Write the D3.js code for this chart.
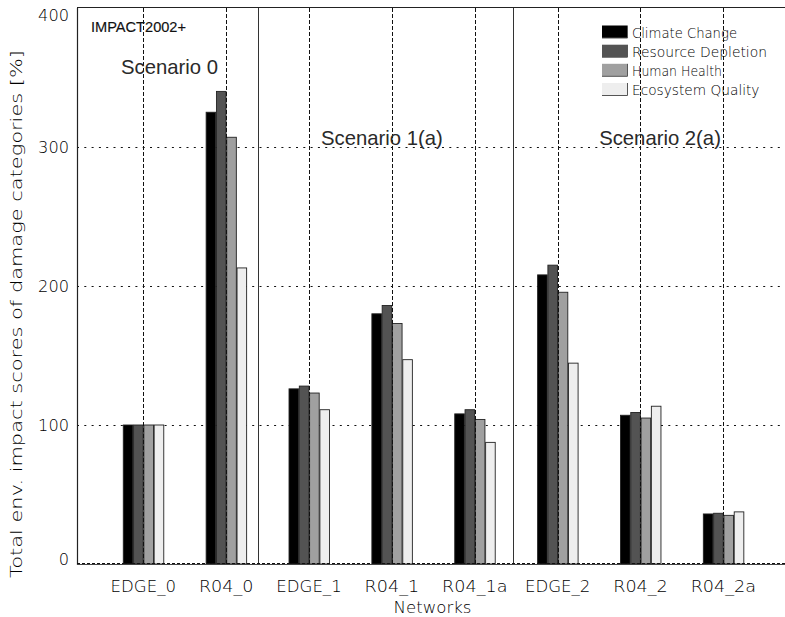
<!DOCTYPE html>
<html>
<head>
<meta charset="utf-8">
<script src="https://cdn.jsdelivr.net/npm/d3@7"></script>
<style>
  html, body { margin: 0; padding: 0; background: #fff; }
  svg { display: block; }
  .hershey { font-family: "DejaVu Sans ExtraLight", "DejaVu Sans", sans-serif; font-weight: 200; fill: #000; }
  .arial { font-family: "Liberation Sans", Arial, sans-serif; }
</style>
</head>
<body>
<svg id="chart" width="785" height="617"></svg>
<script>
// Networks on the x axis
const networks = ["EDGE_0", "R04_0", "EDGE_1", "R04_1", "R04_1a", "EDGE_2", "R04_2", "R04_2a"];
// Damage categories (one bar per category within each network)
const categories = ["Climate Change", "Resource Depletion", "Human Health", "Ecosystem Quality"];
// Scores in % relative to EDGE_0
const climateChange     = [100, 325, 126, 180, 108, 208, 107, 36];
const resourceDepletion = [100, 340, 128, 186, 111, 215, 109, 36.5];
const humanHealth       = [100, 307, 123, 173, 104, 195.5, 105, 35];
const ecosystemQuality  = [100, 213, 111, 147, 87.5, 144.5, 113.5, 37.5];
const yTicks = [0, 100, 200, 300, 400];
// Scenario headings
const scenarioNames = ["Scenario 0", "Scenario 1(a)", "Scenario 2(a)"];

const seriesValues = [climateChange, resourceDepletion, humanHealth, ecosystemQuality];
const fills = ["#000000", "#535353", "#a0a0a0", "#eeeeee"];

const svg = d3.select("#chart");
const plotLeft = 77, plotRight = 785, plotTop = 8, plotBottom = 564;

// x in network-index units
const x = d3.scaleLinear().domain([-0.8, 7.744]).range([plotLeft, plotRight]);
const step = x(1) - x(0);
const y = d3.scaleLinear().domain([0, 400]).range([plotBottom, plotTop]);
const inner = d3.scaleBand().domain(categories).range([-0.2475 * step, 0.2495 * step]);

// Horizontal dotted grid (behind bars)
svg.append("g").selectAll("line").data(yTicks.filter(v => v > 0 && v < 400)).join("line")
  .attr("x1", plotLeft).attr("x2", plotRight)
  .attr("y1", d => Math.round(y(d)) + 0.5).attr("y2", d => Math.round(y(d)) + 0.5)
  .attr("stroke", "#111").attr("stroke-width", 1.2).attr("stroke-dasharray", "2,5.3");

// Bars
const barData = [];
networks.forEach((n, i) => categories.forEach((c, k) => barData.push({ i, k, c, v: seriesValues[k][i] })));
svg.append("g").selectAll("rect").data(barData).join("rect")
  .attr("x", d => x(d.i) + inner(d.c) + 0.5)
  .attr("width", inner.bandwidth() - 0.7)
  .attr("y", d => y(d.v))
  .attr("height", d => plotBottom - y(d.v))
  .attr("fill", d => fills[d.k])
  .attr("stroke", "#222").attr("stroke-width", 0.9);

// Vertical dashed lines at each network
svg.append("g").selectAll("line").data(networks).join("line")
  .attr("x1", (d, i) => Math.round(x(i)) + 0.5).attr("x2", (d, i) => Math.round(x(i)) + 0.5)
  .attr("y1", plotTop).attr("y2", plotBottom)
  .attr("stroke", "#111").attr("stroke-width", 1).attr("stroke-dasharray", "4,2");

// Solid separators between scenarios
const scenarioBreaks = [1.388, 4.465];
svg.append("g").selectAll("line").data(scenarioBreaks).join("line")
  .attr("x1", d => Math.round(x(d)) + 0.5).attr("x2", d => Math.round(x(d)) + 0.5)
  .attr("y1", plotTop).attr("y2", plotBottom)
  .attr("stroke", "#333").attr("stroke-width", 1);

// Frame: left axis, top line, baseline
svg.append("line").attr("x1", plotLeft + 0.5).attr("x2", plotLeft + 0.5).attr("y1", plotTop).attr("y2", plotBottom + 1)
  .attr("stroke", "#222").attr("stroke-width", 1.2);
svg.append("line").attr("x1", plotLeft).attr("x2", plotRight).attr("y1", plotTop - 0.5).attr("y2", plotTop - 0.5)
  .attr("stroke", "#222").attr("stroke-width", 1);
svg.append("line").attr("x1", plotLeft).attr("x2", plotRight).attr("y1", plotBottom + 0.5).attr("y2", plotBottom + 0.5)
  .attr("stroke", "#444").attr("stroke-width", 1);
svg.append("line").attr("x1", plotLeft).attr("x2", plotRight).attr("y1", plotBottom - 0.5).attr("y2", plotBottom - 0.5)
  .attr("stroke", "#111").attr("stroke-width", 1).attr("stroke-dasharray", "3,2");

// Y tick labels (wide stroke-font look)
svg.append("g").selectAll("text").data(yTicks).join("text")
  .attr("class", "hershey")
  .attr("x", 69).attr("y", d => Math.min(Math.max(y(d), 15), 559.5))
  .attr("dy", "0.36em")
  .attr("text-anchor", "end").attr("font-size", 16)
  .attr("textLength", d => String(d).length * 10.3).attr("lengthAdjust", "spacingAndGlyphs")
  .text(d => d);

// X tick labels
svg.append("g").selectAll("text").data(networks).join("text")
  .attr("class", "hershey")
  .attr("x", (d, i) => x(i)).attr("y", 592)
  .attr("text-anchor", "middle").attr("font-size", 16)
  .attr("textLength", d => d.length * 10.9).attr("lengthAdjust", "spacingAndGlyphs")
  .text(d => d);

// Axis titles
svg.append("text").attr("class", "hershey")
  .attr("x", 432.5).attr("y", 613).attr("text-anchor", "middle").attr("font-size", 16)
  .attr("textLength", 78).attr("lengthAdjust", "spacingAndGlyphs")
  .text("Networks");
svg.append("text").attr("class", "hershey")
  .attr("transform", "translate(22,314) rotate(-90)")
  .attr("text-anchor", "middle").attr("font-size", 16)
  .attr("textLength", 528).attr("lengthAdjust", "spacingAndGlyphs")
  .text("Total env. impact scores of damage categories [%]");

// Method tag
svg.append("text").attr("class", "arial")
  .attr("x", 91).attr("y", 32).attr("font-size", 14).attr("fill", "#111")
  .attr("stroke", "#111").attr("stroke-width", 0.15)
  .attr("textLength", 95).attr("lengthAdjust", "spacingAndGlyphs")
  .text("IMPACT2002+");

// Scenario headings, placed in network-index units
const scenarioLabelPos = [[0.316, 74], [2.88, 145], [6.236, 145]];
svg.append("g").selectAll("text").data(scenarioNames).join("text")
  .attr("class", "arial")
  .attr("x", (d, i) => x(scenarioLabelPos[i][0])).attr("y", (d, i) => scenarioLabelPos[i][1])
  .attr("text-anchor", "middle").attr("font-size", 20.3).attr("fill", "#2a2a2a")
  .text(d => d);

// Legend
const legend = svg.append("g").attr("transform", "translate(602,0)");
const rowBase = [37.5, 56.7, 75.8, 95];
categories.forEach((c, k) => {
  legend.append("rect").attr("x", 0).attr("y", rowBase[k] - 12).attr("width", 25).attr("height", 12.5)
    .attr("fill", fills[k]);
  legend.append("path")
    .attr("d", `M0,${rowBase[k] + 0.5}H25.5V${rowBase[k] - 12}`)
    .attr("fill", "none").attr("stroke", "#555").attr("stroke-width", 1);
  legend.append("text").attr("class", "hershey")
    .attr("x", 30).attr("y", rowBase[k]).attr("font-size", 13.5)
    .attr("textLength", c.length * 7.5).attr("lengthAdjust", "spacingAndGlyphs")
    .text(c);
});
</script>
</body>
</html>
